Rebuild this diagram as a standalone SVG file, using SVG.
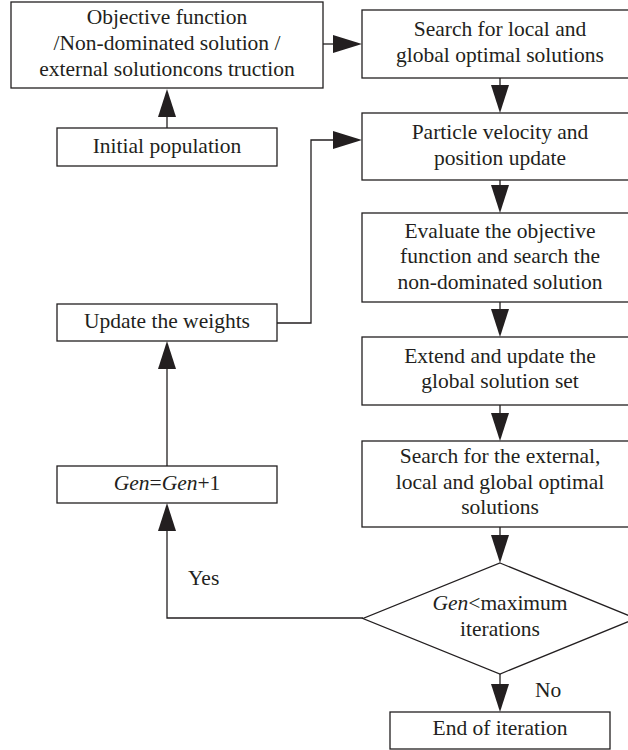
<svg xmlns="http://www.w3.org/2000/svg" width="628" height="750" viewBox="0 0 628 750">
<defs>
<style>
.box{fill:#fff;stroke:#231f20;stroke-width:1.3}
.ln{fill:none;stroke:#231f20;stroke-width:1.3}
.ah{fill:#231f20}
text{font-family:'Liberation Serif','DejaVu Serif',serif;font-size:21.5px;fill:#231f20;text-anchor:middle}
.it{font-style:italic}
.lbl{text-anchor:start}
</style>
</defs>
<rect width="628" height="750" fill="#fff"/>
<g id="connectors">
<path class="ln" d="M167,128 V117"/><path class="ah" d="M167,89 L176,117 L158,117 Z"/>
<path class="ln" d="M323,44 H333"/><path class="ah" d="M362,44 L333,35 L333,53 Z"/>
<path class="ln" d="M500,78 V85"/><path class="ah" d="M500,113 L491,85 L509,85 Z"/>
<path class="ln" d="M277,323 H311 V140 H333"/><path class="ah" d="M362,140 L333,131 L333,149 Z"/>
<path class="ln" d="M500,180 V185"/><path class="ah" d="M500,213 L491,185 L509,185 Z"/>
<path class="ln" d="M500,302 V309"/><path class="ah" d="M500,337 L491,309 L509,309 Z"/>
<path class="ln" d="M500,405 V413"/><path class="ah" d="M500,441 L491,413 L509,413 Z"/>
<path class="ln" d="M500,527 V535"/><path class="ah" d="M500,563 L491,535 L509,535 Z"/>
<path class="ln" d="M500,674 V684"/><path class="ah" d="M500,712 L491,684 L509,684 Z"/>
<path class="ln" d="M363,618 H167 V531"/><path class="ah" d="M167,503 L176,531 L158,531 Z"/>
<path class="ln" d="M167,466 V369"/><path class="ah" d="M167,341 L176,369 L158,369 Z"/>
<text class="lbl" x="188" y="585">Yes</text>
<text class="lbl" x="535" y="697">No</text>
</g>
<g id="n_objective">
<rect class="box" x="11" y="2" width="312" height="86"/>
<text x="167" y="24">Objective function</text>
<text x="167" y="50">/Non-dominated solution /</text>
<text x="167" y="76">external solutioncons truction</text>
</g>
<g id="n_initial">
<rect class="box" x="57" y="128" width="220" height="38"/>
<text x="167" y="153">Initial population</text>
</g>
<g id="n_search_local">
<rect class="box" x="362" y="10" width="276" height="68"/>
<text x="500" y="36">Search for local and</text>
<text x="500" y="62">global optimal solutions</text>
</g>
<g id="n_particle">
<rect class="box" x="362" y="113" width="276" height="67"/>
<text x="500" y="139">Particle velocity and</text>
<text x="500" y="165">position update</text>
</g>
<g id="n_evaluate">
<rect class="box" x="362" y="213" width="276" height="89"/>
<text x="500" y="238">Evaluate the objective</text>
<text x="500" y="263">function and search the</text>
<text x="500" y="289">non-dominated solution</text>
</g>
<g id="n_extend">
<rect class="box" x="362" y="337" width="276" height="68"/>
<text x="500" y="363">Extend and update the</text>
<text x="500" y="388">global solution set</text>
</g>
<g id="n_search_ext">
<rect class="box" x="362" y="441" width="276" height="86"/>
<text x="500" y="463">Search for the external,</text>
<text x="500" y="489">local and global optimal</text>
<text x="500" y="514">solutions</text>
</g>
<g id="n_decision">
<polygon class="box" points="500,563 636,618.5 500,674 363,618.5"/>
<text x="500" y="610"><tspan class="it">Gen</tspan>&lt;maximum</text>
<text x="500" y="636">iterations</text>
</g>
<g id="n_end">
<rect class="box" x="390" y="712" width="220" height="37"/>
<text x="500" y="735">End of iteration</text>
</g>
<g id="n_update">
<rect class="box" x="57" y="304" width="220" height="37"/>
<text x="167" y="328">Update the weights</text>
</g>
<g id="n_gen">
<rect class="box" x="57" y="466" width="220" height="37"/>
<text x="167" y="490"><tspan class="it">Gen</tspan>=<tspan class="it">Gen</tspan>+1</text>
</g>
</svg>
